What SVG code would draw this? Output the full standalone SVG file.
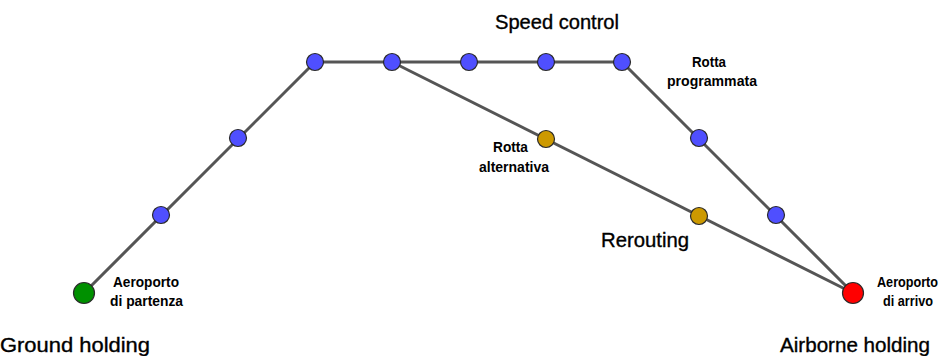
<svg xmlns="http://www.w3.org/2000/svg" width="946" height="356" viewBox="0 0 946 356">
  <style>
    .route { fill: none; stroke: #555555; stroke-width: 3; stroke-linejoin: round; }
    .pt { stroke: #2a2a2a; stroke-width: 1.2; }
    .wp { fill: #4f4fff; }
    .alt { fill: #cc9900; }
    .dep { fill: #009000; }
    .arr { fill: #ff0000; }
    .big { font-family: "Liberation Sans", Arial, sans-serif; font-size: 20px; fill: #000; stroke: #000; stroke-width: 0.35; }
    .small { font-family: "Liberation Sans", Arial, sans-serif; font-size: 14.5px; font-weight: bold; fill: #000; }
  </style>

  <g id="connectors">
    <!-- programmed route -->
    <polyline class="route" points="84,293 315,62 622,62 853,293"/>
    <!-- alternative route -->
    <line class="route" x1="392" y1="62" x2="853" y2="293"/>
  </g>

  <g id="wp1"><circle class="pt wp" cx="161" cy="215" r="8.5"/></g>
  <g id="wp2"><circle class="pt wp" cx="238" cy="138" r="8.5"/></g>
  <g id="wp3"><circle class="pt wp" cx="315" cy="62" r="8.5"/></g>
  <g id="wp4"><circle class="pt wp" cx="392" cy="62" r="8.5"/></g>
  <g id="wp5"><circle class="pt wp" cx="469" cy="62" r="8.5"/></g>
  <g id="wp6"><circle class="pt wp" cx="546" cy="62" r="8.5"/></g>
  <g id="wp7"><circle class="pt wp" cx="622" cy="62" r="8.5"/></g>
  <g id="wp8"><circle class="pt wp" cx="699" cy="138" r="8.5"/></g>
  <g id="wp9"><circle class="pt wp" cx="776" cy="215" r="8.5"/></g>
  <g id="alt1"><circle class="pt alt" cx="546" cy="139" r="8.5"/></g>
  <g id="alt2"><circle class="pt alt" cx="699" cy="216" r="8.5"/></g>

  <g id="departure">
    <circle class="pt dep" cx="84" cy="293" r="10.5"/>
    <text class="small" x="113" y="287" textLength="66" lengthAdjust="spacingAndGlyphs">Aeroporto</text>
    <text class="small" x="110" y="306" textLength="73" lengthAdjust="spacingAndGlyphs">di partenza</text>
  </g>

  <g id="arrival">
    <circle class="pt arr" cx="853" cy="293" r="10.5"/>
    <text class="small" x="877" y="287" textLength="61" lengthAdjust="spacingAndGlyphs">Aeroporto</text>
    <text class="small" x="883" y="306" textLength="50" lengthAdjust="spacingAndGlyphs">di arrivo</text>
  </g>

  <g id="label-programmed">
    <text class="small" x="692" y="67" textLength="34" lengthAdjust="spacingAndGlyphs">Rotta</text>
    <text class="small" x="667" y="86" textLength="90" lengthAdjust="spacingAndGlyphs">programmata</text>
  </g>

  <g id="label-alternative">
    <text class="small" x="493" y="152" textLength="35" lengthAdjust="spacingAndGlyphs">Rotta</text>
    <text class="small" x="479" y="172" textLength="70" lengthAdjust="spacingAndGlyphs">alternativa</text>
  </g>

  <text class="big" x="495" y="29" textLength="124" lengthAdjust="spacingAndGlyphs">Speed control</text>
  <text class="big" x="601" y="247" textLength="88" lengthAdjust="spacingAndGlyphs">Rerouting</text>
  <text class="big" x="0" y="352" textLength="150" lengthAdjust="spacingAndGlyphs">Ground holding</text>
  <text class="big" x="780" y="352" textLength="150" lengthAdjust="spacingAndGlyphs">Airborne holding</text>
</svg>
